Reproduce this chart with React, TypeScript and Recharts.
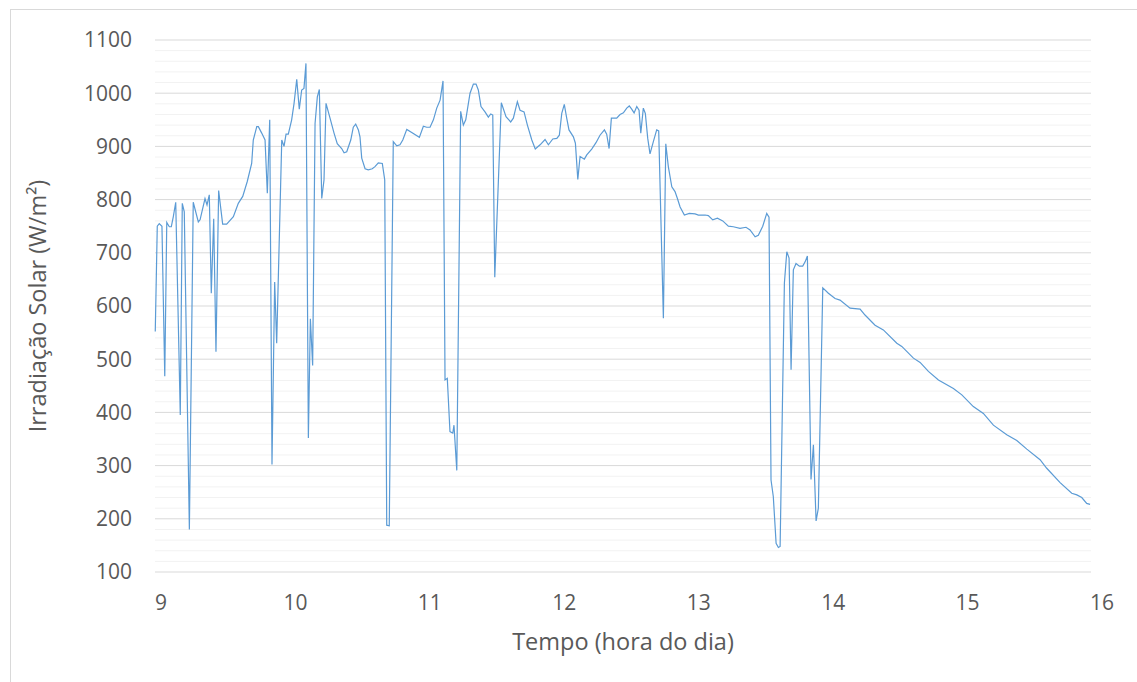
import React from "react";
import { LineChart, Line, XAxis, YAxis, CartesianGrid, Label } from "recharts";

// Time of day (hours) and solar irradiance (W/m²)
const times: number[] = [
  9.002, 9.017, 9.032, 9.052, 9.073, 9.088, 9.107, 9.122, 9.137, 9.155,
  9.189, 9.204, 9.219, 9.257, 9.286, 9.324, 9.337, 9.374, 9.389, 9.406,
  9.421, 9.439, 9.456, 9.476, 9.506, 9.536, 9.586, 9.623, 9.656, 9.69,
  9.723, 9.735, 9.761, 9.773, 9.798, 9.823, 9.84, 9.858, 9.875, 9.895,
  9.91, 9.948, 9.965, 9.98, 9.997, 10.022, 10.04, 10.06, 10.079, 10.097,
  10.114, 10.129, 10.147, 10.162, 10.179, 10.197, 10.214, 10.229, 10.247, 10.264,
  10.279, 10.309, 10.339, 10.363, 10.396, 10.414, 10.434, 10.464, 10.483, 10.501,
  10.521, 10.533, 10.546, 10.571, 10.595, 10.625, 10.645, 10.67, 10.7, 10.718,
  10.733, 10.752, 10.782, 10.808, 10.832, 10.853, 10.883, 10.92, 10.977, 11.007,
  11.032, 11.057, 11.082, 11.107, 11.132, 11.154, 11.169, 11.186, 11.206, 11.227,
  11.236, 11.257, 11.286, 11.306, 11.324, 11.356, 11.381, 11.401, 11.418, 11.438,
  11.468, 11.493, 11.511, 11.526, 11.541, 11.59, 11.625, 11.66, 11.68, 11.71,
  11.73, 11.76, 11.785, 11.818, 11.844, 11.88, 11.917, 11.942, 11.975, 12.005,
  12.024, 12.042, 12.061, 12.079, 12.096, 12.129, 12.144, 12.162, 12.179, 12.211,
  12.229, 12.266, 12.298, 12.328, 12.361, 12.378, 12.396, 12.413, 12.453, 12.478,
  12.503, 12.528, 12.547, 12.565, 12.583, 12.603, 12.62, 12.633, 12.652, 12.667,
  12.685, 12.702, 12.727, 12.752, 12.767, 12.802, 12.82, 12.839, 12.865, 12.889,
  12.907, 12.927, 12.959, 12.996, 13.039, 13.064, 13.114, 13.138, 13.171, 13.206,
  13.246, 13.288, 13.325, 13.375, 13.42, 13.45, 13.488, 13.512, 13.545, 13.575,
  13.592, 13.607, 13.624, 13.645, 13.662, 13.675, 13.707, 13.725, 13.742, 13.757,
  13.774, 13.794, 13.819, 13.844, 13.862, 13.879, 13.906, 13.924, 13.944, 13.961,
  13.994, 14.036, 14.086, 14.123, 14.198, 14.273, 14.31, 14.385, 14.447, 14.548,
  14.585, 14.672, 14.722, 14.784, 14.859, 14.971, 15.034, 15.12, 15.195, 15.27,
  15.37, 15.445, 15.52, 15.619, 15.669, 15.769, 15.856, 15.894, 15.931, 15.968,
  15.993,
];

const irradiance: number[] = [
  552, 750, 755, 750, 468, 757, 749, 749, 768, 795,
  395, 793, 777, 180, 795, 758, 762, 802, 790, 809,
  624, 764, 514, 817, 754, 754, 768, 793, 806, 834,
  868, 912, 937, 937, 925, 912, 812, 950, 302, 645,
  530, 912, 900, 923, 923, 950, 981, 1026, 970, 1006,
  1009, 1056, 352, 576, 488, 943, 993, 1007, 802, 837,
  981, 953, 925, 905, 896, 888, 890, 912, 936, 942,
  931, 918, 878, 858, 856, 858, 862, 869, 868, 837,
  188, 187, 909, 901, 903, 912, 932, 926, 917, 938,
  936, 936, 950, 972, 987, 1023, 461, 464, 364, 361,
  376, 291, 966, 940, 950, 1000, 1017, 1017, 1006, 975,
  965, 955, 961, 959, 654, 982, 956, 946, 953, 984,
  968, 965, 940, 912, 895, 903, 913, 903, 914, 915,
  921, 962, 979, 953, 931, 918, 906, 838, 881, 876,
  884, 895, 907, 921, 931, 923, 896, 953, 953, 960,
  963, 972, 976, 970, 963, 975, 968, 925, 972, 962,
  915, 886, 909, 931, 929, 577, 905, 862, 824, 815,
  802, 786, 771, 774, 773, 771, 771, 770, 762, 765,
  760, 750, 749, 746, 748, 743, 730, 733, 750, 774,
  767, 273, 242, 154, 146, 148, 643, 702, 690, 480,
  668, 680, 675, 675, 683, 694, 274, 339, 196, 220,
  634, 624, 614, 611, 596, 594, 583, 564, 555, 530,
  524, 502, 494, 477, 461, 445, 433, 411, 398, 376,
  358, 347, 331, 311, 295, 268, 248, 245, 240, 229,
  227,
];

const xTicks: number[] = [9, 10, 11, 12, 13, 14, 15, 16];
const yTicks: number[] = [100, 200, 300, 400, 500, 600, 700, 800, 900, 1000, 1100];
const yMinor: number[] = [];
for (let v = 120; v < 1100; v += 20) {
  if (v % 100 !== 0) yMinor.push(v);
}

const data = times.map((t, i) => ({ t, v: irradiance[i] }));

const FONT = "'Open Sans', 'Noto Sans', sans-serif";
const TEXT = "#595959";

const XTick = (props: any) => {
  const { x, y, payload } = props;
  const shift = 6 + (payload.value - 9) * 0.72;
  return (
    <text x={x + shift} y={y} dy="0.71em" textAnchor="middle" fill={TEXT} fontSize={21} fontFamily={FONT}>
      {payload.value}
    </text>
  );
};

const YTitle = (props: any) => {
  const vb = props.viewBox || {};
  const cx = 37;
  const cy = vb.y + vb.height / 2;
  return (
    <text
      x={cx}
      y={cy}
      transform={`rotate(-90, ${cx}, ${cy})`}
      textAnchor="middle"
      dominantBaseline="central"
      fill={TEXT}
      fontSize={23.5}
      fontFamily={FONT}
    >
      Irradiação Solar (W/m²)
    </text>
  );
};

export default function App() {
  return (
    <div
      style={{
        position: "fixed",
        left: 0,
        top: 0,
        width: 1137,
        height: 682,
        overflow: "hidden",
        background: "#fff",
      }}
    >
      <div
        style={{
          position: "absolute",
          left: 10,
          top: 9,
          width: 1200,
          height: 800,
          border: "1px solid #d9d9d9",
        }}
      />
      <div style={{ position: "absolute", left: 0, top: 0 }}>
        <LineChart width={1137} height={682} data={data} margin={{ top: 40, right: 46, bottom: 0, left: 0 }}>
          <CartesianGrid vertical={false} horizontalValues={yMinor} stroke="#f2f2f2" strokeWidth={1} />
          <CartesianGrid vertical={false} horizontalValues={yTicks} stroke="#d9d9d9" strokeWidth={1} />
          <XAxis
            dataKey="t"
            type="number"
            domain={[9, 16]}
            ticks={xTicks}
            axisLine={false}
            tickLine={false}
            tickSize={0}
            tickMargin={23}
            height={110}
            tick={<XTick />}
            interval={0}
          >
            <Label
              value="Tempo (hora do dia)"
              position="insideBottom"
              offset={32}
              fill={TEXT}
              fontSize={23.5}
              fontFamily={FONT}
            />
          </XAxis>
          <YAxis
            type="number"
            domain={[100, 1100]}
            ticks={yTicks}
            axisLine={false}
            tickLine={false}
            tickSize={0}
            tickMargin={23}
            width={155}
            interval={0}
            tick={{ fill: TEXT, fontSize: 21, fontFamily: FONT }}
          >
            <Label content={<YTitle />} />
          </YAxis>
          <Line
            type="linear"
            dataKey="v"
            stroke="#5B9BD5"
            strokeWidth={1.2}
            dot={false}
            isAnimationActive={false}
          />
        </LineChart>
      </div>
    </div>
  );
}
